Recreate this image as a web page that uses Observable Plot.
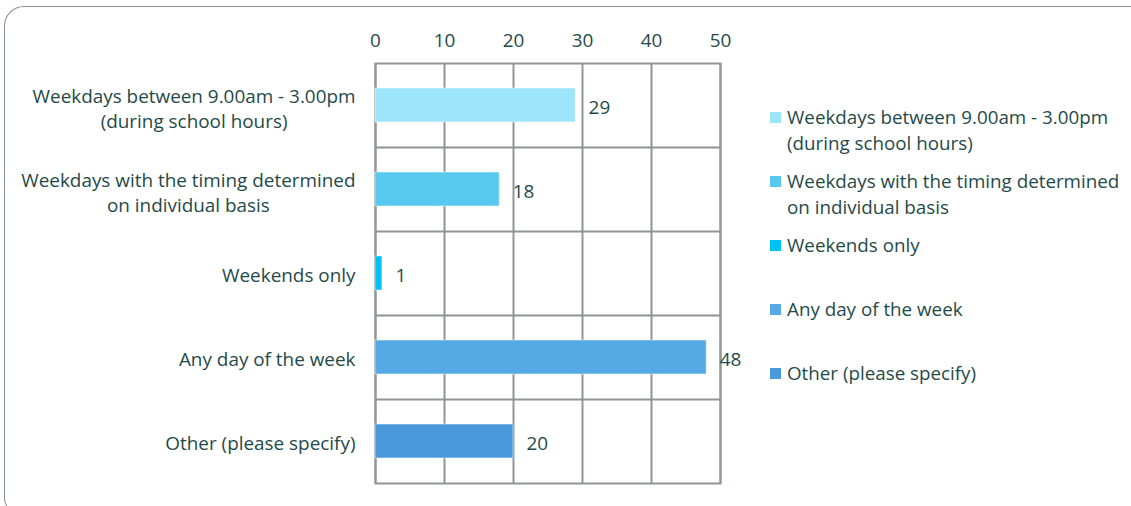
<!DOCTYPE html>
<html>
<head>
<meta charset="utf-8">
<script src="https://cdn.jsdelivr.net/npm/d3@7"></script>
<script src="https://cdn.jsdelivr.net/npm/@observablehq/plot@0.6"></script>
<style>
  html, body { margin: 0; padding: 0; background: #fff; width: 1131px; height: 506px; overflow: hidden; }
  body { font-family: "Open Sans", Lato, sans-serif; color: #1f4a4a; position: relative; }
  #frame { position: absolute; left: 4px; top: 6px; width: 1127px; height: 508px; border: 1.5px solid #8a8f91; border-right: none; border-radius: 20px 0 0 16px; box-sizing: border-box; }
  #chart { position: absolute; left: 0; top: 0; }
  #legend { position: absolute; left: 770px; top: 104px; font-size: 18.8px; line-height: 26px; white-space: nowrap; }
  .item { display: flex; align-items: flex-start; height: 64px; }
  .sw { width: 11px; height: 11px; margin-top: 8px; margin-right: 6px; flex: none; }
</style>
</head>
<body>
<div id="frame"></div>
<div id="chart"></div>
<div id="legend"></div>
<script>
const categories = [
  "Weekdays between 9.00am - 3.00pm\n(during school hours)",
  "Weekdays with the timing determined\non individual basis",
  "Weekends only",
  "Any day of the week",
  "Other (please specify)"
];
const values = [29, 18, 1, 48, 20];
const colors = ["#9ce5fb", "#57c9ef", "#00c1f3", "#55a9e4", "#4a99dc"];
const xTicks = [0, 10, 20, 30, 40, 50];

const data = categories.map((c, i) => ({category: c, value: values[i], color: colors[i]}));
const textColor = "#1f4a4a";
const gridColor = "#8e9598";
const font = "'Open Sans', Lato, sans-serif";
const fs = 18.9;

const plot = Plot.plot({
  width: 1131,
  height: 506,
  marginLeft: 375,
  marginRight: 411,
  marginTop: 63,
  marginBottom: 23,
  style: {fontFamily: font, fontSize: fs + "px", color: textColor, background: "transparent"},
  x: {domain: [0, 50], axis: null},
  y: {domain: categories, paddingInner: 0.6, paddingOuter: 0.3, axis: null},
  marks: [
    Plot.ruleX(xTicks, {stroke: gridColor, strokeWidth: 2}),
    Plot.ruleY(categories.slice(1), {y: d => d, stroke: gridColor, strokeWidth: 2, dy: -42}),
    Plot.frame({stroke: gridColor, strokeWidth: 2}),
    Plot.barX(data, {x: "value", y: "category", fill: "color", stroke: "#ffffff", strokeOpacity: 0.5, strokeWidth: 1}),
    Plot.text(data, {x: "value", y: "category", text: d => String(d.value), textAnchor: "start", dx: 13, dy: 2, fill: textColor, fontSize: fs}),
    Plot.axisX(xTicks, {anchor: "top", tickSize: 0, tickPadding: 17, fill: textColor, fontSize: fs, label: null}),
    Plot.axisY({anchor: "left", tickSize: 0, tickPadding: 20, fill: textColor, fontSize: fs, lineHeight: 1.33, label: null, textOverflow: null})
  ]
});
document.getElementById("chart").appendChild(plot);

// center multi-line y labels within their right-aligned block
plot.querySelectorAll("[aria-label='y-axis tick label'] text").forEach(t => {
  if (t.querySelectorAll("tspan").length > 1) {
    const w = t.getBBox().width;
    t.setAttribute("text-anchor", "middle");
    t.style.textAnchor = "middle";
    const tr = t.getAttribute("transform") || "";
    t.setAttribute("transform", tr + ` translate(${-w / 2},2)`);
  }
});

const legend = document.getElementById("legend");
data.forEach(d => {
  const item = document.createElement("div");
  item.className = "item";
  const sw = document.createElement("div");
  sw.className = "sw";
  sw.style.background = d.color;
  const label = document.createElement("div");
  label.innerHTML = d.category.replace("\n", "<br>");
  item.appendChild(sw);
  item.appendChild(label);
  legend.appendChild(item);
});
</script>
</body>
</html>
